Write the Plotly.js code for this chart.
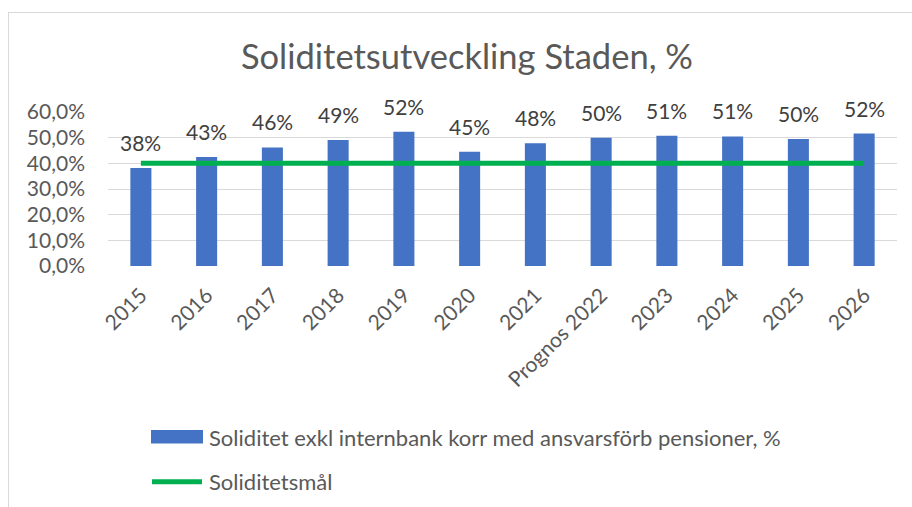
<!DOCTYPE html>
<html>
<head>
<meta charset="utf-8">
<script src="https://cdn.plot.ly/plotly-3.0.1.min.js"></script>
<style>
html,body{margin:0;padding:0;background:#fff;}
#frame{position:absolute;left:8px;top:12px;width:940px;height:540px;border:1.5px solid #d9d9d9;box-sizing:border-box;pointer-events:none;z-index:5;}
#chart{position:absolute;left:0;top:0;width:912px;height:507px;}
</style>
</head>
<body>
<div id="chart"></div>
<div id="frame"></div>
<script>
const categories = ["2015","2016","2017","2018","2019","2020","2021","Prognos 2022","2023","2024","2025","2026"];
const soliditet = [0.382,0.425,0.462,0.491,0.523,0.445,0.478,0.500,0.507,0.505,0.495,0.516];
const mal = [0.40,0.40,0.40,0.40,0.40,0.40,0.40,0.40,0.40,0.40,0.40,0.40];
const seriesNames = ["Soliditet exkl internbank korr med ansvarsförb pensioner, %","Soliditetsmål"];
const titleText = "Soliditetsutveckling Staden, %";

const FONT = "Lato, 'Open Sans', sans-serif";
const GREY = "#595959";

const traces = [
  {type:"bar", x:categories, y:soliditet, name:seriesNames[0],
   marker:{color:"#4472C4"}, showlegend:false},
  {type:"scatter", mode:"lines", x:categories, y:mal, name:seriesNames[1],
   line:{color:"#00B050", width:5}, showlegend:false}
];

const annotations = categories.map((c,i)=>({
  x:i, y:soliditet[i], xref:"x", yref:"y", text:Math.round(soliditet[i]*100)+"%",
  showarrow:false, yanchor:"bottom", yshift:11,
  font:{family:FONT, size:21, color:"#404040"}
}));
const px = v => (v-108)/789;
const py = v => (507-241-v)/(507-112-241);
annotations.push({xref:"paper", yref:"paper", x:px(207), y:py(437), text:seriesNames[0],
  showarrow:false, xanchor:"left", yanchor:"middle", font:{family:FONT,size:22,color:GREY}});
annotations.push({xref:"paper", yref:"paper", x:px(207), y:py(481), text:seriesNames[1],
  showarrow:false, xanchor:"left", yanchor:"middle", font:{family:FONT,size:22,color:GREY}});

const shapes = [
  {type:"rect", xref:"paper", yref:"paper", x0:px(151), x1:px(203), y0:py(443.5), y1:py(430),
   fillcolor:"#4472C4", line:{width:0}},
  {type:"line", xref:"paper", yref:"paper", x0:px(152), x1:px(202), y0:py(481.7), y1:py(481.7),
   line:{color:"#00B050", width:5}}
];

const layout = {
  width:912, height:507,
  margin:{l:108, r:15, t:112, b:241},
  paper_bgcolor:"#fff", plot_bgcolor:"#fff",
  separators:", ",
  title:{text:titleText, font:{family:FONT, size:34.5, color:GREY}, x:0.512, xanchor:"center", y:0.887, yanchor:"middle"},
  font:{family:FONT, color:GREY},
  bargap:0.68,
  showlegend:false,
  xaxis:{type:"category", categoryorder:"array", categoryarray:categories, range:[-0.5, categories.length-0.5],
    tickangle:-45, tickfont:{family:FONT,size:21,color:GREY}, ticklabelstandoff:12,
    showgrid:false, showline:false, ticks:"", automargin:false},
  yaxis:{range:[0,0.6], dtick:0.1, tickformat:".1%", tickfont:{family:FONT,size:21,color:GREY},
    gridcolor:"#d9d9d9", gridwidth:1, zeroline:false, showline:false, ticks:"",
    ticklabelstandoff:22, automargin:false},
  annotations:annotations,
  shapes:shapes
};

Plotly.newPlot("chart", traces, layout, {displayModeBar:false, staticPlot:true});
</script>
</body>
</html>
